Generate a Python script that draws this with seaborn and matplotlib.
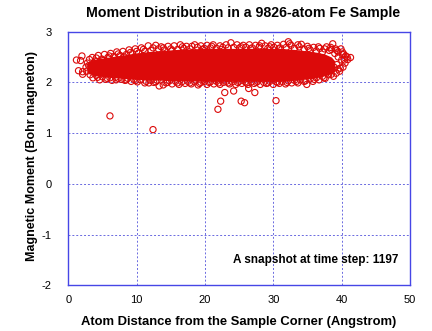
import matplotlib
matplotlib.use('Agg')
import matplotlib.pyplot as plt
import seaborn as sns
import pandas as pd

# ---- data ----
# dense core of the cloud (solid red in the reference): envelope of ~9800 overlapping circles
core_x = [2.7, 3.0, 4.0, 6.0, 8.0, 10.0, 12.0, 14.0, 16.0, 18.0, 20.0, 24.0, 28.0, 31.0, 33.0, 35.0, 36.5, 37.5, 38.5, 39.0]
core_lo = [2.22, 2.17, 2.13, 2.10, 2.08, 2.06, 2.05, 2.04, 2.03, 2.03, 2.02, 2.02, 2.02, 2.02, 2.04, 2.07, 2.10, 2.13, 2.17, 2.22]
core_hi = [2.38, 2.42, 2.46, 2.50, 2.54, 2.58, 2.61, 2.63, 2.65, 2.66, 2.67, 2.67, 2.67, 2.67, 2.65, 2.62, 2.59, 2.56, 2.50, 2.42]

# individually visible atoms (edges of the cloud and outliers)
top_x = [3.1, 3.5, 3.9, 4.4, 4.9, 5.3, 5.8, 6.2, 6.7, 7.1, 7.6, 8.0, 8.5, 8.9, 9.4, 9.8, 10.3, 10.7, 11.2, 11.7,
         12.1, 12.8, 13.2, 13.6, 14.1, 14.6, 15.0, 15.5, 16.0, 16.4, 16.9, 17.3, 17.8, 18.5, 18.9, 19.4, 19.9, 20.3,
         20.8, 21.2, 21.7, 22.2, 22.6, 23.1, 23.8, 24.2, 24.7, 25.1, 25.6, 26.0, 26.5, 26.9, 27.4, 28.3, 27.9, 28.8,
         29.2, 29.7, 30.1, 30.6, 31.0, 31.5, 32.2, 31.9, 32.6, 33.1, 33.6, 34.1, 34.5, 35.0, 35.4, 35.9, 36.3, 36.8,
         37.2, 37.8, 38.2, 38.7, 39.1, 39.5, 39.9, 40.3, 40.6, 41.3, 40.9]
top_y = [2.45, 2.49, 2.42, 2.53, 2.46, 2.55, 2.49, 2.57, 2.51, 2.60, 2.53, 2.61, 2.55, 2.64, 2.57, 2.66, 2.58, 2.68, 2.61, 2.72,
         2.63, 2.73, 2.66, 2.70, 2.64, 2.71, 2.66, 2.72, 2.65, 2.74, 2.67, 2.71, 2.66, 2.74, 2.69, 2.72, 2.67, 2.73,
         2.68, 2.74, 2.67, 2.72, 2.69, 2.74, 2.78, 2.69, 2.74, 2.68, 2.73, 2.69, 2.74, 2.68, 2.73, 2.77, 2.69, 2.72,
         2.67, 2.74, 2.69, 2.73, 2.68, 2.75, 2.80, 2.69, 2.73, 2.67, 2.74, 2.75, 2.66, 2.71, 2.64, 2.69, 2.62, 2.67,
         2.60, 2.70, 2.63, 2.76, 2.66, 2.60, 2.66, 2.56, 2.52, 2.49, 2.45]
top2_x = [4.1, 5.1, 6.0, 7.3, 8.2, 9.1, 10.0, 11.0, 12.4, 13.9, 15.2, 16.7, 18.1, 19.6, 21.0, 22.4, 23.4, 25.3, 26.7,
          28.0, 29.5, 30.8, 32.4, 33.8, 35.2, 36.6, 37.5, 38.4, 39.3, 40.1]
top2_y = [2.48, 2.43, 2.52, 2.56, 2.50, 2.59, 2.61, 2.65, 2.68, 2.68, 2.63, 2.70, 2.71, 2.65, 2.71, 2.65, 2.68, 2.70,
          2.66, 2.72, 2.70, 2.66, 2.76, 2.70, 2.67, 2.70, 2.66, 2.69, 2.63, 2.60]
bot_x = [3.2, 3.6, 4.1, 4.6, 5.0, 5.5, 6.1, 6.4, 6.9, 7.3, 7.8, 8.3, 8.7, 9.2, 9.6, 10.1, 10.6, 11.2, 11.8, 12.1,
         12.5, 13.0, 13.3, 13.9, 14.3, 14.8, 15.2, 15.7, 16.2, 16.6, 17.1, 17.5, 18.0, 18.5, 19.0, 19.4, 19.9, 20.3,
         20.8, 21.3, 21.7, 22.2, 22.7, 23.1, 23.6, 24.0, 24.5, 25.0, 25.4, 25.9, 26.3, 26.8, 27.2, 27.7, 28.1, 28.6,
         29.0, 29.5, 30.0, 30.4, 30.9, 31.3, 31.8, 32.2, 32.7, 33.1, 33.6, 34.0, 34.5, 34.9, 35.4, 35.8, 36.3, 36.7,
         37.2, 37.6, 38.1, 38.8, 39.2, 39.7, 40.2, 40.5, 40.0]
bot_y = [2.15, 2.09, 2.14, 2.05, 2.11, 2.06, 2.09, 2.04, 2.10, 2.08, 2.06, 2.04, 2.08, 2.02, 2.06, 2.01, 2.05, 1.99, 1.99, 2.04,
         2.00, 2.04, 1.93, 1.95, 1.99, 2.03, 1.97, 2.02, 1.96, 2.01, 1.98, 2.02, 1.97, 2.01, 1.95, 2.00, 2.02, 1.96,
         2.01, 1.97, 2.02, 1.96, 2.00, 2.02, 1.97, 2.01, 1.96, 2.02, 1.98, 2.01, 1.96, 2.01, 1.98, 2.02, 1.96, 2.00,
         1.98, 2.02, 1.96, 2.01, 1.98, 2.02, 1.97, 2.03, 1.99, 2.04, 1.99, 2.05, 2.02, 1.96, 2.07, 2.02, 2.09, 2.05,
         2.12, 2.08, 2.15, 2.12, 2.18, 2.22, 2.30, 2.38, 2.44]
bot2_x = [4.3, 5.7, 7.0, 8.5, 9.9, 11.4, 12.8, 14.5, 16.0, 17.8, 19.2, 20.6, 22.0, 23.4, 24.8, 26.1, 27.5, 29.2, 30.6,
          32.0, 33.4, 34.7, 36.0, 37.4, 38.5, 39.5]
bot2_y = [2.10, 2.08, 2.05, 2.05, 2.04, 2.02, 2.01, 2.00, 1.99, 1.99, 1.98, 2.00, 1.99, 1.99, 2.00, 1.99, 2.00, 1.99,
          2.00, 2.00, 2.02, 2.03, 2.06, 2.09, 2.16, 2.26]
end_x = [1.2, 2.0, 1.8, 1.5, 2.1, 2.1, 2.6, 2.8, 2.7, 3.0, 39.3, 39.8, 40.4, 38.9, 39.5, 40.1, 39.0, 38.5, 40.8]
end_y = [2.44, 2.52, 2.43, 2.23, 2.21, 2.16, 2.30, 2.38, 2.22, 2.33, 2.35, 2.28, 2.44, 2.30, 2.50, 2.55, 2.57, 2.65, 2.50]
out_x = [6.1, 12.4, 22.9, 24.2, 26.4, 27.3, 22.3, 21.9, 25.3, 25.8, 30.4]
out_y = [1.34, 1.07, 1.80, 1.83, 1.88, 1.80, 1.63, 1.47, 1.63, 1.60, 1.64]

x_ticks = [0, 10, 20, 30, 40, 50]
y_ticks = [-2, -1, 0, 1, 2, 3]

title = 'Moment Distribution in a 9826-atom Fe Sample'
xlabel = 'Atom Distance from the Sample Corner (Angstrom)'
ylabel = 'Magnetic Moment (Bohr magneton)'
note = 'A snapshot at time step: 1197'

RED = '#dc0a0a'
BLUE = '#4646e6'
GRID = '#6a6ae0'

sns.set_style('white')
plt.rcParams['font.family'] = ['Liberation Sans', 'DejaVu Sans']
plt.rcParams['text.color'] = 'black'

atoms = pd.DataFrame({'x': top_x + top2_x + bot_x + bot2_x + end_x + out_x,
                      'y': top_y + top2_y + bot_y + bot2_y + end_y + out_y})

fig = plt.figure(figsize=(4.32, 3.31), dpi=100)
ax = fig.add_axes([0.158, 0.1375, 0.791, 0.767])

ax.fill_between(core_x, core_lo, core_hi, color=RED, lw=0, zorder=2)
sns.scatterplot(data=atoms, x='x', y='y', ax=ax, marker='o', s=20,
                facecolor='none', edgecolor=RED, linewidth=0.8, zorder=3)

ax.set_xlim(0, 50)
ax.set_ylim(-2, 3)
ax.set_xticks(x_ticks)
ax.set_yticks(y_ticks)
ax.set_xticklabels([str(v) for v in x_ticks])
ax.set_yticklabels([str(v) for v in y_ticks])
ax.tick_params(axis='both', length=0, labelsize=8, colors='black')
ax.tick_params(axis='x', pad=7)
ax.tick_params(axis='y', pad=12)
ax.set_xlabel('')
ax.set_ylabel('')
ax.grid(True, color=GRID, linestyle=(0, (2, 2)), linewidth=0.7)
ax.set_axisbelow(True)
for s in ax.spines.values():
    s.set_color(BLUE)
    s.set_linewidth(1.0)

ax.text(48.3, -1.49, note, ha='right', va='center', fontsize=8.5, fontweight='bold', color='black')
fig.text(0.5625, 0.961, title, ha='center', va='center', fontsize=10.2, fontweight='bold', color='black')
fig.text(0.553, 0.028, xlabel, ha='center', va='center', fontsize=9.4, fontweight='bold', color='black')
fig.text(0.073, 0.53, ylabel, ha='center', va='center', rotation=90, fontsize=9, fontweight='bold', color='black')

fig.savefig('out.png', dpi=100)
